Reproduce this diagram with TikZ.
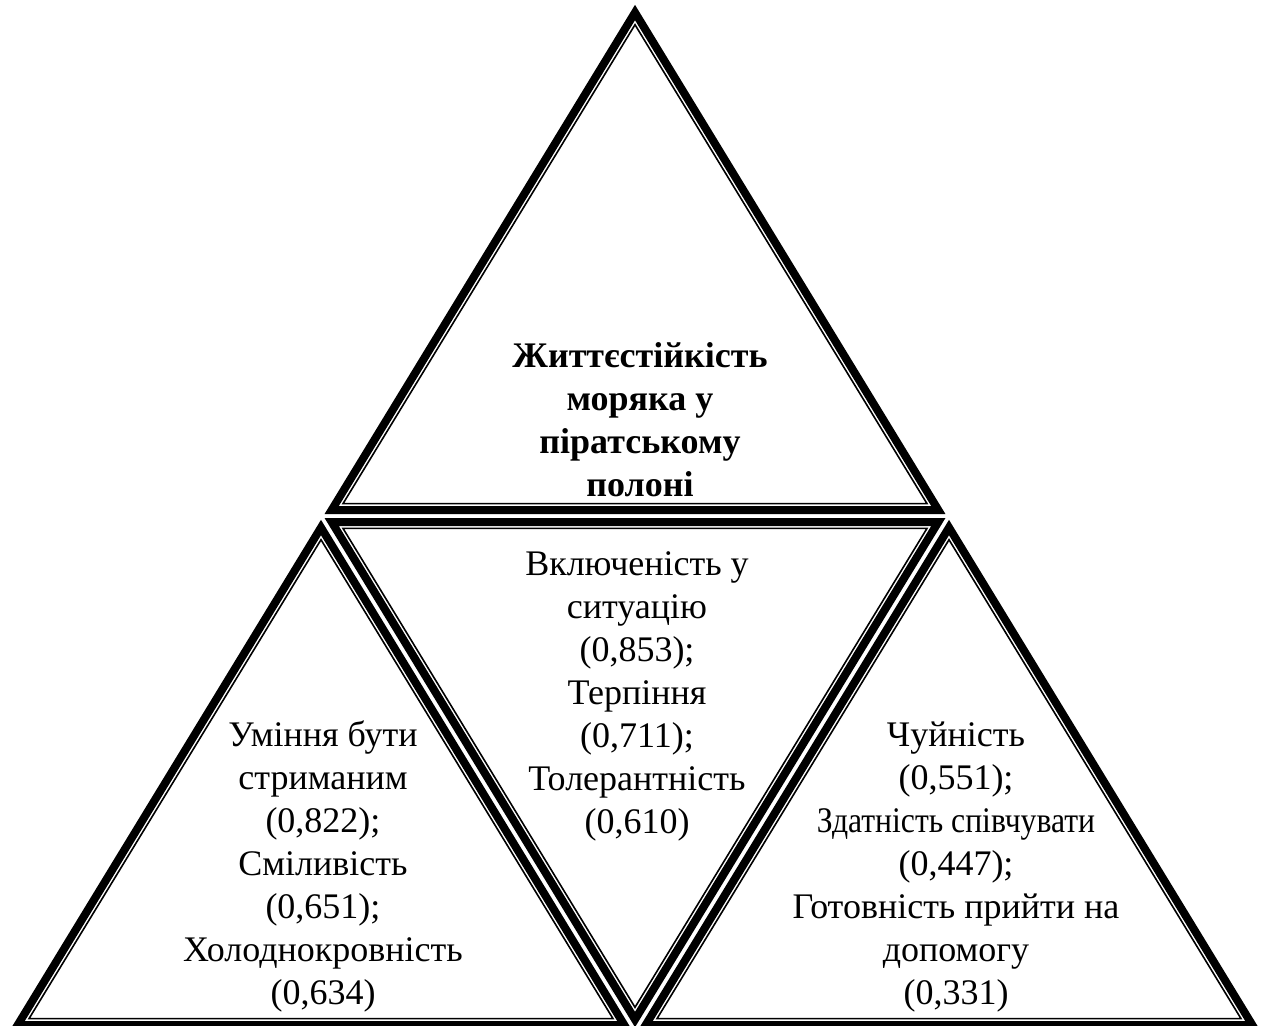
\documentclass[tikz,border=0pt]{standalone}
\usepackage{fontspec}
\setmainfont{Liberation Serif}
\usepackage{graphicx}
\usetikzlibrary{calc}

\begin{document}
\begin{tikzpicture}[x=0.5pt,y=-0.5pt,
        thickrim/.style={line width=4pt},
        thinrim/.style={line width=0.8pt},
        txt/.style={align=center,inner sep=0pt,font=\fontsize{18}{21.5}\selectfont}]
        \useasboundingbox (0,0) rectangle (1269,1025);

        % big triangle and the midpoints of its sides
        \coordinate (p1) at (635,1);
        \coordinate (p2) at (7,1031);
        \coordinate (p3) at (1263,1031);
        \coordinate (m12) at ($(p1)!0.5!(p2)$);
        \coordinate (m13) at ($(p1)!0.5!(p3)$);
        \coordinate (m23) at ($(p2)!0.5!(p3)$);

        % each small triangle: thick line outside, thin line inside
        \foreach \a/\b/\c in {p1/m12/m13, m12/p2/m23, m13/m23/p3, m23/m13/m12}
        {
            \coordinate (ic) at (barycentric cs:\a=1.041,\b=1,\c=1);
            \draw[thickrim] ($(ic)!0.966!(\a)$) -- ($(ic)!0.966!(\b)$) -- ($(ic)!0.966!(\c)$) -- cycle;
            \draw[thinrim] ($(ic)!0.93!(\a)$) -- ($(ic)!0.93!(\b)$) -- ($(ic)!0.93!(\c)$) -- cycle;
        }

        \node[txt,font=\fontsize{18}{21.5}\selectfont\bfseries] (title) at (640,420)
            {Життєстійкість\\моряка у\\піратському\\полоні};
        \node[txt] (middle) at (637,696)
            {Включеність у\\ситуацію\\(0,853);\\Терпіння\\(0,711);\\Толерантність\\(0,610)};
        \node[txt] (left) at (323,866)
            {Уміння бути\\стриманим\\(0,822);\\Сміливість\\(0,651);\\Холоднокровність\\(0,634)};
        \node[txt] (right) at (956,867)
            {Чуйність\\(0,551);\\\scalebox{0.88}[1]{Здатність співчувати}\\(0,447);\\Готовність прийти на\\допомогу\\(0,331)};

    \end{tikzpicture}
\end{document}
